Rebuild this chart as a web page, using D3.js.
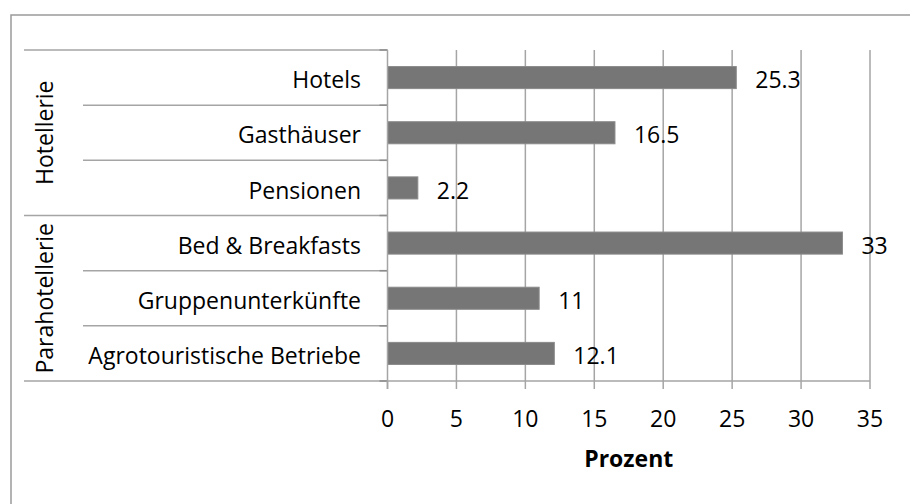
<!DOCTYPE html>
<html>
<head>
<meta charset="utf-8">
<script src="https://cdn.jsdelivr.net/npm/d3@7"></script>
<style>
  html, body { margin: 0; padding: 0; background: #fff; }
  svg { display: block; }
  text { font-family: "Open Sans", Lato, sans-serif; fill: #000; }
</style>
</head>
<body>
<svg id="chart" width="910" height="504"></svg>
<script>
const categories = ["Hotels", "Gasthäuser", "Pensionen", "Bed & Breakfasts", "Gruppenunterkünfte", "Agrotouristische Betriebe"];
const groupNames = ["Hotellerie", "Parahotellerie"];
const groupOf = ["Hotellerie", "Hotellerie", "Hotellerie", "Parahotellerie", "Parahotellerie", "Parahotellerie"];
const values = [25.3, 16.5, 2.2, 33, 11, 12.1];
const xTicks = [0, 5, 10, 15, 20, 25, 30, 35];
const xTitle = "Prozent";

const svg = d3.select("#chart");
const fontSize = 23;
const lineColor = "#a5a5a5";

const plot = { left: 387.5, right: 870, top: 50, bottom: 381 };

const x = d3.scaleLinear().domain([0, 35]).range([plot.left, plot.right]);
const y = d3.scaleBand().domain(categories).range([plot.top, plot.bottom])
  .paddingInner(0.6).paddingOuter(0.3);
const step = y.step();

// outer frame (cut off at right/bottom)
svg.append("rect").attr("x", 11).attr("y", 15).attr("width", 920).attr("height", 520)
  .attr("fill", "none").attr("stroke", "#9a9a9a").attr("stroke-width", 1.5);

// vertical gridlines
svg.append("g").selectAll("line").data(xTicks.slice(1)).join("line")
  .attr("x1", d => x(d)).attr("x2", d => x(d))
  .attr("y1", plot.top).attr("y2", plot.bottom)
  .attr("stroke", lineColor).attr("stroke-width", 1.5);

// category boundary lines in the label area
const bounds = d3.range(categories.length + 1).map(i => plot.top + i * step);
const groupBoundIdx = [0, 3, 6];
svg.append("g").selectAll("line").data(bounds).join("line")
  .attr("x1", (d, i) => groupBoundIdx.includes(i) ? 24 : 83)
  .attr("x2", plot.left)
  .attr("y1", d => d).attr("y2", d => d)
  .attr("stroke", lineColor).attr("stroke-width", 1.5);

// category tick marks
svg.append("g").selectAll("line").data(bounds).join("line")
  .attr("x1", plot.left - 8).attr("x2", plot.left)
  .attr("y1", d => d).attr("y2", d => d)
  .attr("stroke", "#8c8c8c").attr("stroke-width", 1.5);

// bars
svg.append("g").selectAll("rect").data(categories).join("rect")
  .attr("x", x(0))
  .attr("y", d => y(d))
  .attr("width", (d, i) => x(values[i]) - x(0))
  .attr("height", y.bandwidth())
  .attr("fill", "#767676")
  .attr("stroke", "#8a8a8a").attr("stroke-width", 1);

// x axis line
svg.append("line").attr("x1", plot.left).attr("x2", plot.right)
  .attr("y1", plot.bottom).attr("y2", plot.bottom)
  .attr("stroke", lineColor).attr("stroke-width", 1.5);
// x ticks
svg.append("g").selectAll("line").data(xTicks).join("line")
  .attr("x1", d => x(d)).attr("x2", d => x(d))
  .attr("y1", plot.bottom).attr("y2", plot.bottom + 8)
  .attr("stroke", lineColor).attr("stroke-width", 1.5);
// y axis line
svg.append("line").attr("x1", plot.left).attr("x2", plot.left)
  .attr("y1", plot.top).attr("y2", plot.bottom + 8)
  .attr("stroke", lineColor).attr("stroke-width", 1.5);

// x tick labels
svg.append("g").selectAll("text").data(xTicks).join("text")
  .attr("x", d => x(d)).attr("y", 426.5)
  .attr("text-anchor", "middle").attr("font-size", fontSize)
  .text(d => d);

// axis title
svg.append("text").attr("x", (plot.left + plot.right) / 2).attr("y", 466.5)
  .attr("text-anchor", "middle").attr("font-size", fontSize).attr("font-weight", "bold")
  .text(xTitle);

// category labels
const baseOff = 10.7;
svg.append("g").selectAll("text").data(categories).join("text")
  .attr("x", 361).attr("y", d => y(d) + y.bandwidth() / 2 + baseOff)
  .attr("text-anchor", "end").attr("font-size", fontSize)
  .text(d => d);

// value labels
svg.append("g").selectAll("text").data(categories).join("text")
  .attr("x", (d, i) => x(values[i]) + 19)
  .attr("y", d => y(d) + y.bandwidth() / 2 + baseOff)
  .attr("font-size", fontSize)
  .text((d, i) => d3.format("")(values[i]));

// group labels (rotated)
groupNames.forEach(g => {
  const idx = groupOf.map((v, i) => v === g ? i : -1).filter(i => i >= 0);
  const y0 = y(categories[idx[0]]) - step * y.paddingInner() / 2;
  const y1 = y(categories[idx[idx.length - 1]]) + y.bandwidth() + step * y.paddingInner() / 2;
  const cy = (y0 + y1) / 2;
  svg.append("text")
    .attr("transform", `translate(53,${cy}) rotate(-90)`)
    .attr("text-anchor", "middle").attr("font-size", fontSize)
    .text(g);
});
</script>
</body>
</html>
